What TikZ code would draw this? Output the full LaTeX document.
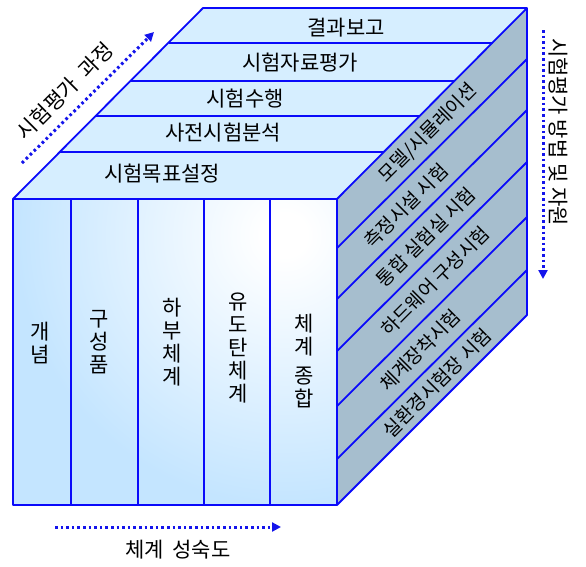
\documentclass[tikz,border=0pt]{standalone}
\usepackage{fontspec}
\newfontfamily\kr{Noto Sans CJK KR}
\usetikzlibrary{arrows.meta}
\definecolor{edgeblue}{RGB}{10,10,250}
\definecolor{topfill}{RGB}{214,238,255}
\definecolor{frontfill}{RGB}{196,229,255}
\definecolor{sidefill}{RGB}{166,190,206}
\definecolor{shadowgray}{RGB}{150,150,150}
\definecolor{dotblue}{RGB}{20,20,235}
\pgfdeclareradialshading{frontglow}{\pgfpoint{0bp}{0bp}}{color(0bp)=(white); color(2bp)=(white); color(25bp)=(frontfill); color(50bp)=(frontfill)}
\begin{document}
\begin{tikzpicture}[x=1pt,y=-1pt,
  edge/.style={draw=edgeblue,line width=1.8pt},
  toplab/.style={font=\kr\fontsize{21}{23}\selectfont,inner sep=0pt},
  collab/.style={font=\kr\fontsize{21}{23}\selectfont,align=center,inner sep=0pt},
  sidelab/.style={font=\kr\fontsize{19}{21}\selectfont,rotate=45,inner sep=0pt},
  outlab/.style={font=\kr\fontsize{21}{23}\selectfont,inner sep=0pt},
  dotarrow/.style={draw=dotblue,line width=3pt,dash pattern=on 2.6pt off 3pt,
    -{Triangle[length=9pt,width=9pt,fill=dotblue]}}]
\useasboundingbox (0,0) rectangle (586,566);
% corners
\coordinate (FTL) at (13,199);
\coordinate (FBL) at (13,505);
\coordinate (FTR) at (337,199);
\coordinate (FBR) at (337,505);
\coordinate (BTL) at (203,8);
\coordinate (BTR) at (527,8);
\coordinate (BBR) at (527,315);
% shadow
\fill[shadowgray!60,shift={(4,4)}] (FTL) -- (BTL) -- (BTR) -- (BBR) -- (FBR) -- (FBL) -- cycle;
\fill[shadowgray,shift={(2.5,2.5)}] (FTL) -- (BTL) -- (BTR) -- (BBR) -- (FBR) -- (FBL) -- cycle;
% front face
\fill[frontfill] (FTL) rectangle (FBR);
\begin{scope}
  \clip (FTL) rectangle (FBR);
  \shade[shading=frontglow] (285,235) circle[radius=270pt];
\end{scope}
% top face
\fill[topfill] (FTL) -- (BTL) -- (BTR) -- (FTR) -- cycle;
% right face
\fill[sidefill] (FTR) -- (BTR) -- (BBR) -- (FBR) -- cycle;
% top face bands
\draw[edge] (169,43) -- (493,43);
\draw[edge] (131,81) -- (455,81);
\draw[edge] (96,116) -- (420,116);
\draw[edge] (60,152) -- (384,152);
% right face strips
\foreach \yl in {248,299,351,406,459}{
  \draw[edge] (337,\yl) -- (527,\yl-189);
}
% front columns
\foreach \xc in {71,138,204,270}{
  \draw[edge] (\xc,199) -- (\xc,505);
}
% outlines
\draw[edge,line join=round] (FTL) -- (BTL) -- (BTR) -- (BBR) -- (FBR) -- (FBL) -- cycle;
\draw[edge] (FTL) -- (FTR) -- (BTR);
\draw[edge] (FTR) -- (FBR);
% top labels
\node[toplab] (t1) at (346,28) {결과보고};
\node[toplab] (t2) at (300,63) {시험자료평가};
\node[toplab] (t3) at (245,99) {시험수행};
\node[toplab] (t4) at (223,133) {사전시험분석};
\node[toplab] (t5) at (162,174) {시험목표설정};
% front labels
\node[collab] (c1) at (40,343) {개\\념};
\node[collab] (c2) at (99,342) {구\\성\\품};
\node[collab] (c3) at (172,342) {하\\부\\체\\계};
\node[collab] (c4) at (238,348) {유\\도\\탄\\체\\계};
\node[collab] (c5) at (304,361) {체\\계\\[6pt]종\\합};
% side labels
\node[sidelab] (s1) at (428,133) {모델/시뮬레이션};
\node[sidelab] (s2) at (406,206) {측정시설 시험};
\node[sidelab] (s3) at (426,237) {통합 실험실 시험};
\node[sidelab] (s4) at (435,281) {하드웨어 구성시험};
\node[sidelab] (s5) at (420,350) {체계장착시험};
\node[sidelab] (s6) at (437,383) {실환경시험장 시험};
% outer arrows and labels
\coordinate (pa) at (22,163);
\coordinate (pb) at (154,32);
\draw[dotarrow] (pa) -- (pb);
\node[outlab,rotate=45] (lp) at (65,91) {시험평가\hspace{0.5em}과정};
\coordinate (ra) at (543,30);
\coordinate (rb) at (543,279);
\draw[dotarrow] (ra) -- (rb);
\node[outlab,rotate=-90] (lr) at (558,132) {시험평가 방법 및 자원};
\coordinate (ba) at (55,527);
\coordinate (bb) at (281,527);
\draw[dotarrow] (ba) -- (bb);
\node[outlab] (lb) at (178,550) {체계\hspace{0.4em}성숙도};
\end{tikzpicture}
\end{document}
